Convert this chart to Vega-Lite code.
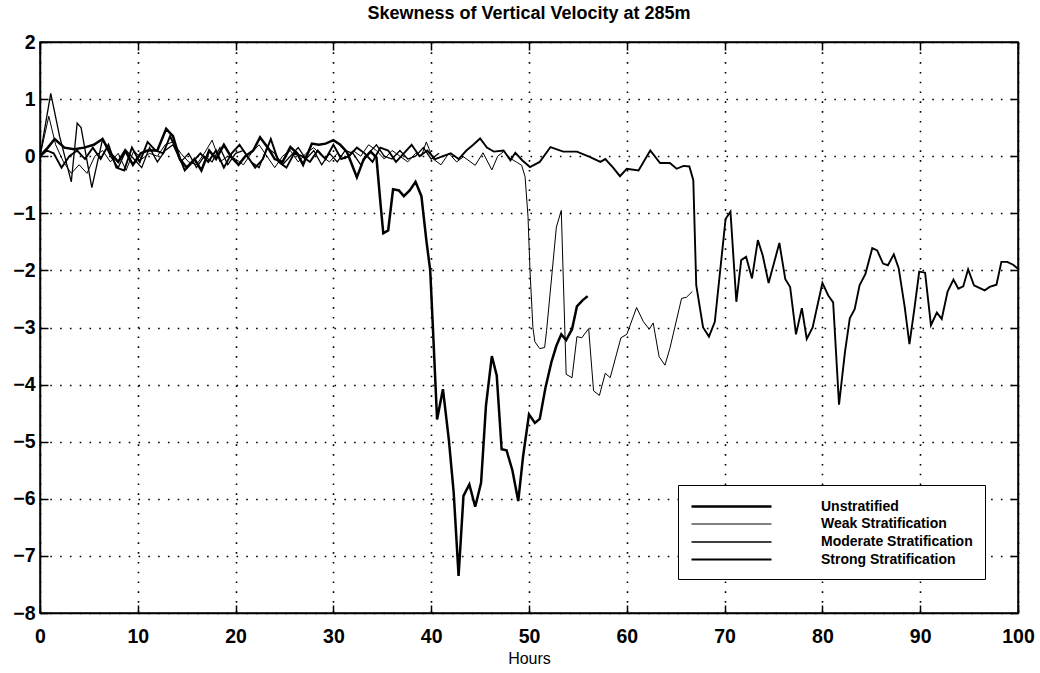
{
  "$schema": "https://vega.github.io/schema/vega-lite/v6.json",
  "autosize": {"type": "none"},
  "width": 978,
  "height": 571,
  "padding": {"left": 40, "top": 42, "right": 22, "bottom": 60},
  "background": "white",
  "title": {"text": "Skewness of Vertical Velocity at 285m", "font": "Liberation Sans", "fontSize": 18, "fontWeight": "bold", "color": "black", "offset": 9, "anchor": "middle"},
  "config": {
    "view": {"stroke": "black", "strokeWidth": 1.5},
    "axis": {"domainColor": "black", "domainWidth": 1.5, "tickColor": "black", "tickWidth": 1.5, "labelColor": "black", "titleColor": "black"}
  },
  "datasets": {
    "d": [
      {"hour":0.0,"skew":0.0,"case":"Unstratified"},{"hour":0.8,"skew":0.15,"case":"Unstratified"},{"hour":1.5,"skew":0.3,"case":"Unstratified"},{"hour":2.5,"skew":0.15,"case":"Unstratified"},{"hour":3.5,"skew":0.12,"case":"Unstratified"},{"hour":4.5,"skew":0.15,"case":"Unstratified"},{"hour":5.5,"skew":0.2,"case":"Unstratified"},{"hour":6.4,"skew":0.3,"case":"Unstratified"},{"hour":7.2,"skew":0.05,"case":"Unstratified"},{"hour":8.0,"skew":-0.1,"case":"Unstratified"},{"hour":8.7,"skew":0.1,"case":"Unstratified"},{"hour":9.5,"skew":-0.15,"case":"Unstratified"},{"hour":10.3,"skew":0.05,"case":"Unstratified"},{"hour":11.0,"skew":0.1,"case":"Unstratified"},{"hour":12.0,"skew":0.1,"case":"Unstratified"},{"hour":12.9,"skew":0.48,"case":"Unstratified"},{"hour":13.6,"skew":0.35,"case":"Unstratified"},{"hour":14.3,"skew":-0.05,"case":"Unstratified"},{"hour":15.0,"skew":-0.2,"case":"Unstratified"},{"hour":15.8,"skew":-0.05,"case":"Unstratified"},{"hour":16.5,"skew":-0.25,"case":"Unstratified"},{"hour":17.3,"skew":0.1,"case":"Unstratified"},{"hour":18.0,"skew":-0.05,"case":"Unstratified"},{"hour":18.8,"skew":0.2,"case":"Unstratified"},{"hour":19.5,"skew":0.0,"case":"Unstratified"},{"hour":20.3,"skew":-0.15,"case":"Unstratified"},{"hour":21.0,"skew":0.0,"case":"Unstratified"},{"hour":21.8,"skew":0.1,"case":"Unstratified"},{"hour":22.5,"skew":0.33,"case":"Unstratified"},{"hour":23.3,"skew":0.15,"case":"Unstratified"},{"hour":24.0,"skew":-0.05,"case":"Unstratified"},{"hour":24.8,"skew":-0.1,"case":"Unstratified"},{"hour":25.6,"skew":0.16,"case":"Unstratified"},{"hour":26.3,"skew":0.05,"case":"Unstratified"},{"hour":26.9,"skew":-0.15,"case":"Unstratified"},{"hour":27.8,"skew":0.22,"case":"Unstratified"},{"hour":28.5,"skew":0.2,"case":"Unstratified"},{"hour":29.2,"skew":0.22,"case":"Unstratified"},{"hour":30.0,"skew":0.28,"case":"Unstratified"},{"hour":30.7,"skew":0.2,"case":"Unstratified"},{"hour":31.4,"skew":0.07,"case":"Unstratified"},{"hour":32.4,"skew":-0.37,"case":"Unstratified"},{"hour":33.1,"skew":-0.05,"case":"Unstratified"},{"hour":33.8,"skew":0.08,"case":"Unstratified"},{"hour":34.4,"skew":-0.02,"case":"Unstratified"},{"hour":34.8,"skew":-0.8,"case":"Unstratified"},{"hour":35.1,"skew":-1.35,"case":"Unstratified"},{"hour":35.6,"skew":-1.3,"case":"Unstratified"},{"hour":36.1,"skew":-0.58,"case":"Unstratified"},{"hour":36.7,"skew":-0.6,"case":"Unstratified"},{"hour":37.2,"skew":-0.7,"case":"Unstratified"},{"hour":37.8,"skew":-0.6,"case":"Unstratified"},{"hour":38.4,"skew":-0.45,"case":"Unstratified"},{"hour":39.0,"skew":-0.7,"case":"Unstratified"},{"hour":39.5,"skew":-1.47,"case":"Unstratified"},{"hour":39.9,"skew":-2.0,"case":"Unstratified"},{"hour":40.2,"skew":-3.1,"case":"Unstratified"},{"hour":40.6,"skew":-4.61,"case":"Unstratified"},{"hour":41.2,"skew":-4.08,"case":"Unstratified"},{"hour":41.8,"skew":-4.96,"case":"Unstratified"},{"hour":42.3,"skew":-5.89,"case":"Unstratified"},{"hour":42.8,"skew":-7.35,"case":"Unstratified"},{"hour":43.3,"skew":-5.95,"case":"Unstratified"},{"hour":43.9,"skew":-5.75,"case":"Unstratified"},{"hour":44.5,"skew":-6.14,"case":"Unstratified"},{"hour":45.1,"skew":-5.72,"case":"Unstratified"},{"hour":45.6,"skew":-4.37,"case":"Unstratified"},{"hour":46.2,"skew":-3.5,"case":"Unstratified"},{"hour":46.7,"skew":-3.84,"case":"Unstratified"},{"hour":47.2,"skew":-5.13,"case":"Unstratified"},{"hour":47.7,"skew":-5.15,"case":"Unstratified"},{"hour":48.3,"skew":-5.5,"case":"Unstratified"},{"hour":48.9,"skew":-6.04,"case":"Unstratified"},{"hour":49.4,"skew":-5.25,"case":"Unstratified"},{"hour":50.0,"skew":-4.52,"case":"Unstratified"},{"hour":50.6,"skew":-4.67,"case":"Unstratified"},{"hour":51.1,"skew":-4.6,"case":"Unstratified"},{"hour":51.7,"skew":-4.04,"case":"Unstratified"},{"hour":52.3,"skew":-3.6,"case":"Unstratified"},{"hour":52.8,"skew":-3.32,"case":"Unstratified"},{"hour":53.3,"skew":-3.12,"case":"Unstratified"},{"hour":53.8,"skew":-3.22,"case":"Unstratified"},{"hour":54.4,"skew":-3.03,"case":"Unstratified"},{"hour":54.9,"skew":-2.63,"case":"Unstratified"},{"hour":55.5,"skew":-2.52,"case":"Unstratified"},{"hour":56.0,"skew":-2.45,"case":"Unstratified"},

      {"hour":0.0,"skew":0.0,"case":"Weak Stratification"},{"hour":0.9,"skew":0.7,"case":"Weak Stratification"},{"hour":1.6,"skew":0.2,"case":"Weak Stratification"},{"hour":2.4,"skew":-0.1,"case":"Weak Stratification"},{"hour":3.2,"skew":-0.3,"case":"Weak Stratification"},{"hour":4.0,"skew":-0.15,"case":"Weak Stratification"},{"hour":4.8,"skew":-0.3,"case":"Weak Stratification"},{"hour":5.6,"skew":0.0,"case":"Weak Stratification"},{"hour":6.4,"skew":0.1,"case":"Weak Stratification"},{"hour":7.2,"skew":-0.1,"case":"Weak Stratification"},{"hour":8.0,"skew":0.05,"case":"Weak Stratification"},{"hour":8.8,"skew":-0.25,"case":"Weak Stratification"},{"hour":9.6,"skew":0.1,"case":"Weak Stratification"},{"hour":10.4,"skew":-0.05,"case":"Weak Stratification"},{"hour":11.2,"skew":0.05,"case":"Weak Stratification"},{"hour":12.0,"skew":0.0,"case":"Weak Stratification"},{"hour":12.8,"skew":0.2,"case":"Weak Stratification"},{"hour":13.6,"skew":0.25,"case":"Weak Stratification"},{"hour":14.4,"skew":0.05,"case":"Weak Stratification"},{"hour":15.2,"skew":-0.1,"case":"Weak Stratification"},{"hour":16.0,"skew":-0.15,"case":"Weak Stratification"},{"hour":16.8,"skew":0.05,"case":"Weak Stratification"},{"hour":17.6,"skew":0.28,"case":"Weak Stratification"},{"hour":18.4,"skew":-0.1,"case":"Weak Stratification"},{"hour":19.2,"skew":0.0,"case":"Weak Stratification"},{"hour":20.0,"skew":-0.05,"case":"Weak Stratification"},{"hour":20.8,"skew":-0.15,"case":"Weak Stratification"},{"hour":21.6,"skew":0.05,"case":"Weak Stratification"},{"hour":22.4,"skew":0.2,"case":"Weak Stratification"},{"hour":23.2,"skew":0.0,"case":"Weak Stratification"},{"hour":24.0,"skew":-0.2,"case":"Weak Stratification"},{"hour":24.8,"skew":0.0,"case":"Weak Stratification"},{"hour":25.6,"skew":0.1,"case":"Weak Stratification"},{"hour":26.4,"skew":-0.1,"case":"Weak Stratification"},{"hour":27.2,"skew":0.05,"case":"Weak Stratification"},{"hour":28.0,"skew":0.15,"case":"Weak Stratification"},{"hour":28.8,"skew":0.0,"case":"Weak Stratification"},{"hour":29.6,"skew":-0.1,"case":"Weak Stratification"},{"hour":30.4,"skew":0.05,"case":"Weak Stratification"},{"hour":31.2,"skew":-0.05,"case":"Weak Stratification"},{"hour":32.0,"skew":0.1,"case":"Weak Stratification"},{"hour":32.8,"skew":0.0,"case":"Weak Stratification"},{"hour":33.6,"skew":0.2,"case":"Weak Stratification"},{"hour":34.4,"skew":0.1,"case":"Weak Stratification"},{"hour":35.2,"skew":-0.05,"case":"Weak Stratification"},{"hour":36.0,"skew":0.1,"case":"Weak Stratification"},{"hour":36.8,"skew":0.0,"case":"Weak Stratification"},{"hour":37.6,"skew":-0.1,"case":"Weak Stratification"},{"hour":38.4,"skew":0.05,"case":"Weak Stratification"},{"hour":39.0,"skew":0.0,"case":"Weak Stratification"},{"hour":39.5,"skew":0.25,"case":"Weak Stratification"},{"hour":40.2,"skew":-0.05,"case":"Weak Stratification"},{"hour":41.0,"skew":-0.15,"case":"Weak Stratification"},{"hour":41.8,"skew":0.05,"case":"Weak Stratification"},{"hour":42.6,"skew":-0.1,"case":"Weak Stratification"},{"hour":43.3,"skew":-0.01,"case":"Weak Stratification"},{"hour":44.5,"skew":-0.16,"case":"Weak Stratification"},{"hour":45.3,"skew":0.06,"case":"Weak Stratification"},{"hour":46.2,"skew":-0.24,"case":"Weak Stratification"},{"hour":46.8,"skew":0.0,"case":"Weak Stratification"},{"hour":47.4,"skew":0.08,"case":"Weak Stratification"},{"hour":48.2,"skew":-0.05,"case":"Weak Stratification"},{"hour":48.7,"skew":-0.1,"case":"Weak Stratification"},{"hour":49.25,"skew":-0.16,"case":"Weak Stratification"},{"hour":49.6,"skew":-0.36,"case":"Weak Stratification"},{"hour":49.9,"skew":-1.06,"case":"Weak Stratification"},{"hour":50.1,"skew":-2.0,"case":"Weak Stratification"},{"hour":50.4,"skew":-3.0,"case":"Weak Stratification"},{"hour":50.6,"skew":-3.25,"case":"Weak Stratification"},{"hour":51.1,"skew":-3.37,"case":"Weak Stratification"},{"hour":51.6,"skew":-3.35,"case":"Weak Stratification"},{"hour":51.8,"skew":-3.05,"case":"Weak Stratification"},{"hour":52.8,"skew":-1.24,"case":"Weak Stratification"},{"hour":53.3,"skew":-0.95,"case":"Weak Stratification"},{"hour":53.8,"skew":-3.82,"case":"Weak Stratification"},{"hour":54.4,"skew":-3.88,"case":"Weak Stratification"},{"hour":54.9,"skew":-3.16,"case":"Weak Stratification"},{"hour":55.4,"skew":-3.18,"case":"Weak Stratification"},{"hour":56.1,"skew":-3.02,"case":"Weak Stratification"},{"hour":56.6,"skew":-4.11,"case":"Weak Stratification"},{"hour":57.2,"skew":-4.19,"case":"Weak Stratification"},{"hour":57.8,"skew":-3.8,"case":"Weak Stratification"},{"hour":58.3,"skew":-3.88,"case":"Weak Stratification"},{"hour":59.4,"skew":-3.18,"case":"Weak Stratification"},{"hour":60.0,"skew":-3.12,"case":"Weak Stratification"},{"hour":61.0,"skew":-2.65,"case":"Weak Stratification"},{"hour":61.7,"skew":-2.9,"case":"Weak Stratification"},{"hour":62.3,"skew":-3.03,"case":"Weak Stratification"},{"hour":62.7,"skew":-2.92,"case":"Weak Stratification"},{"hour":63.3,"skew":-3.51,"case":"Weak Stratification"},{"hour":63.9,"skew":-3.66,"case":"Weak Stratification"},{"hour":64.4,"skew":-3.37,"case":"Weak Stratification"},{"hour":65.6,"skew":-2.49,"case":"Weak Stratification"},{"hour":66.1,"skew":-2.47,"case":"Weak Stratification"},{"hour":66.7,"skew":-2.37,"case":"Weak Stratification"},

      {"hour":0.0,"skew":0.0,"case":"Moderate Stratification"},{"hour":1.1,"skew":1.1,"case":"Moderate Stratification"},{"hour":2.0,"skew":0.35,"case":"Moderate Stratification"},{"hour":3.2,"skew":-0.45,"case":"Moderate Stratification"},{"hour":3.8,"skew":0.58,"case":"Moderate Stratification"},{"hour":4.2,"skew":0.5,"case":"Moderate Stratification"},{"hour":5.3,"skew":-0.55,"case":"Moderate Stratification"},{"hour":6.4,"skew":0.3,"case":"Moderate Stratification"},{"hour":7.2,"skew":0.0,"case":"Moderate Stratification"},{"hour":8.0,"skew":-0.2,"case":"Moderate Stratification"},{"hour":8.8,"skew":0.1,"case":"Moderate Stratification"},{"hour":9.6,"skew":-0.05,"case":"Moderate Stratification"},{"hour":10.4,"skew":-0.2,"case":"Moderate Stratification"},{"hour":11.2,"skew":0.15,"case":"Moderate Stratification"},{"hour":12.0,"skew":-0.1,"case":"Moderate Stratification"},{"hour":12.8,"skew":0.1,"case":"Moderate Stratification"},{"hour":13.6,"skew":0.2,"case":"Moderate Stratification"},{"hour":14.4,"skew":-0.1,"case":"Moderate Stratification"},{"hour":15.2,"skew":0.05,"case":"Moderate Stratification"},{"hour":16.0,"skew":-0.2,"case":"Moderate Stratification"},{"hour":16.8,"skew":0.0,"case":"Moderate Stratification"},{"hour":17.6,"skew":-0.1,"case":"Moderate Stratification"},{"hour":18.4,"skew":0.15,"case":"Moderate Stratification"},{"hour":19.2,"skew":-0.15,"case":"Moderate Stratification"},{"hour":20.0,"skew":0.05,"case":"Moderate Stratification"},{"hour":20.8,"skew":0.1,"case":"Moderate Stratification"},{"hour":21.6,"skew":-0.1,"case":"Moderate Stratification"},{"hour":22.4,"skew":-0.2,"case":"Moderate Stratification"},{"hour":23.2,"skew":0.15,"case":"Moderate Stratification"},{"hour":24.0,"skew":0.05,"case":"Moderate Stratification"},{"hour":24.8,"skew":-0.15,"case":"Moderate Stratification"},{"hour":25.6,"skew":0.0,"case":"Moderate Stratification"},{"hour":26.4,"skew":0.15,"case":"Moderate Stratification"},{"hour":27.2,"skew":-0.05,"case":"Moderate Stratification"},{"hour":28.0,"skew":0.1,"case":"Moderate Stratification"},{"hour":28.8,"skew":-0.15,"case":"Moderate Stratification"},{"hour":29.6,"skew":0.05,"case":"Moderate Stratification"},{"hour":30.4,"skew":-0.1,"case":"Moderate Stratification"},{"hour":31.2,"skew":0.1,"case":"Moderate Stratification"},{"hour":32.0,"skew":0.05,"case":"Moderate Stratification"},{"hour":32.8,"skew":-0.15,"case":"Moderate Stratification"},{"hour":33.6,"skew":0.05,"case":"Moderate Stratification"},{"hour":34.4,"skew":0.2,"case":"Moderate Stratification"},{"hour":35.2,"skew":0.0,"case":"Moderate Stratification"},{"hour":36.0,"skew":-0.05,"case":"Moderate Stratification"},{"hour":36.8,"skew":0.1,"case":"Moderate Stratification"},{"hour":37.6,"skew":-0.05,"case":"Moderate Stratification"},{"hour":38.4,"skew":0.0,"case":"Moderate Stratification"},{"hour":39.2,"skew":0.15,"case":"Moderate Stratification"},{"hour":40.0,"skew":-0.05,"case":"Moderate Stratification"},{"hour":40.8,"skew":0.05,"case":"Moderate Stratification"},

      {"hour":0.0,"skew":0.0,"case":"Strong Stratification"},{"hour":0.7,"skew":0.1,"case":"Strong Stratification"},{"hour":1.4,"skew":0.05,"case":"Strong Stratification"},{"hour":2.2,"skew":-0.2,"case":"Strong Stratification"},{"hour":3.0,"skew":0.0,"case":"Strong Stratification"},{"hour":3.8,"skew":0.1,"case":"Strong Stratification"},{"hour":4.6,"skew":-0.05,"case":"Strong Stratification"},{"hour":5.4,"skew":0.15,"case":"Strong Stratification"},{"hour":6.2,"skew":-0.05,"case":"Strong Stratification"},{"hour":7.0,"skew":0.2,"case":"Strong Stratification"},{"hour":7.8,"skew":-0.2,"case":"Strong Stratification"},{"hour":8.6,"skew":-0.25,"case":"Strong Stratification"},{"hour":9.4,"skew":0.15,"case":"Strong Stratification"},{"hour":10.2,"skew":-0.1,"case":"Strong Stratification"},{"hour":11.0,"skew":0.25,"case":"Strong Stratification"},{"hour":11.8,"skew":0.1,"case":"Strong Stratification"},{"hour":12.6,"skew":0.05,"case":"Strong Stratification"},{"hour":13.3,"skew":0.35,"case":"Strong Stratification"},{"hour":14.0,"skew":0.1,"case":"Strong Stratification"},{"hour":14.8,"skew":-0.25,"case":"Strong Stratification"},{"hour":15.6,"skew":-0.1,"case":"Strong Stratification"},{"hour":16.4,"skew":0.05,"case":"Strong Stratification"},{"hour":17.2,"skew":-0.1,"case":"Strong Stratification"},{"hour":18.0,"skew":0.1,"case":"Strong Stratification"},{"hour":18.8,"skew":-0.2,"case":"Strong Stratification"},{"hour":19.6,"skew":0.05,"case":"Strong Stratification"},{"hour":20.4,"skew":0.2,"case":"Strong Stratification"},{"hour":21.2,"skew":0.0,"case":"Strong Stratification"},{"hour":22.0,"skew":-0.2,"case":"Strong Stratification"},{"hour":22.8,"skew":-0.05,"case":"Strong Stratification"},{"hour":23.6,"skew":0.3,"case":"Strong Stratification"},{"hour":24.4,"skew":-0.1,"case":"Strong Stratification"},{"hour":25.2,"skew":-0.2,"case":"Strong Stratification"},{"hour":26.0,"skew":0.05,"case":"Strong Stratification"},{"hour":26.8,"skew":0.0,"case":"Strong Stratification"},{"hour":27.6,"skew":-0.1,"case":"Strong Stratification"},{"hour":28.4,"skew":0.1,"case":"Strong Stratification"},{"hour":29.2,"skew":-0.05,"case":"Strong Stratification"},{"hour":30.0,"skew":0.2,"case":"Strong Stratification"},{"hour":30.8,"skew":-0.05,"case":"Strong Stratification"},{"hour":31.6,"skew":0.0,"case":"Strong Stratification"},{"hour":32.4,"skew":0.15,"case":"Strong Stratification"},{"hour":33.2,"skew":0.05,"case":"Strong Stratification"},{"hour":34.0,"skew":-0.1,"case":"Strong Stratification"},{"hour":34.8,"skew":0.15,"case":"Strong Stratification"},{"hour":35.6,"skew":0.1,"case":"Strong Stratification"},{"hour":36.4,"skew":-0.1,"case":"Strong Stratification"},{"hour":37.2,"skew":0.05,"case":"Strong Stratification"},{"hour":38.0,"skew":0.2,"case":"Strong Stratification"},{"hour":38.8,"skew":0.0,"case":"Strong Stratification"},{"hour":39.6,"skew":0.1,"case":"Strong Stratification"},{"hour":40.4,"skew":-0.05,"case":"Strong Stratification"},{"hour":41.2,"skew":0.0,"case":"Strong Stratification"},{"hour":42.0,"skew":0.05,"case":"Strong Stratification"},{"hour":42.8,"skew":-0.05,"case":"Strong Stratification"},{"hour":43.6,"skew":0.1,"case":"Strong Stratification"},{"hour":44.3,"skew":0.2,"case":"Strong Stratification"},{"hour":45.0,"skew":0.31,"case":"Strong Stratification"},{"hour":45.7,"skew":0.15,"case":"Strong Stratification"},{"hour":46.4,"skew":0.08,"case":"Strong Stratification"},{"hour":47.4,"skew":0.1,"case":"Strong Stratification"},{"hour":48.1,"skew":-0.07,"case":"Strong Stratification"},{"hour":48.6,"skew":0.06,"case":"Strong Stratification"},{"hour":49.3,"skew":-0.07,"case":"Strong Stratification"},{"hour":50.1,"skew":-0.19,"case":"Strong Stratification"},{"hour":51.1,"skew":-0.1,"case":"Strong Stratification"},{"hour":52.2,"skew":0.16,"case":"Strong Stratification"},{"hour":53.5,"skew":0.08,"case":"Strong Stratification"},{"hour":54.9,"skew":0.08,"case":"Strong Stratification"},{"hour":56.2,"skew":-0.01,"case":"Strong Stratification"},{"hour":57.3,"skew":-0.1,"case":"Strong Stratification"},{"hour":57.8,"skew":-0.05,"case":"Strong Stratification"},{"hour":58.6,"skew":-0.2,"case":"Strong Stratification"},{"hour":59.3,"skew":-0.35,"case":"Strong Stratification"},{"hour":60.0,"skew":-0.22,"case":"Strong Stratification"},{"hour":61.2,"skew":-0.25,"case":"Strong Stratification"},{"hour":62.4,"skew":0.1,"case":"Strong Stratification"},{"hour":63.4,"skew":-0.12,"case":"Strong Stratification"},{"hour":64.4,"skew":-0.12,"case":"Strong Stratification"},{"hour":65.1,"skew":-0.22,"case":"Strong Stratification"},{"hour":65.8,"skew":-0.17,"case":"Strong Stratification"},{"hour":66.4,"skew":-0.18,"case":"Strong Stratification"},{"hour":66.8,"skew":-0.42,"case":"Strong Stratification"},{"hour":67.1,"skew":-2.26,"case":"Strong Stratification"},{"hour":67.8,"skew":-3.0,"case":"Strong Stratification"},{"hour":68.4,"skew":-3.16,"case":"Strong Stratification"},{"hour":69.0,"skew":-2.9,"case":"Strong Stratification"},{"hour":70.1,"skew":-1.1,"case":"Strong Stratification"},{"hour":70.6,"skew":-0.97,"case":"Strong Stratification"},{"hour":71.2,"skew":-2.55,"case":"Strong Stratification"},{"hour":71.7,"skew":-1.82,"case":"Strong Stratification"},{"hour":72.2,"skew":-1.76,"case":"Strong Stratification"},{"hour":72.8,"skew":-2.14,"case":"Strong Stratification"},{"hour":73.4,"skew":-1.47,"case":"Strong Stratification"},{"hour":73.9,"skew":-1.74,"case":"Strong Stratification"},{"hour":74.5,"skew":-2.22,"case":"Strong Stratification"},{"hour":75.6,"skew":-1.52,"case":"Strong Stratification"},{"hour":76.2,"skew":-2.15,"case":"Strong Stratification"},{"hour":76.7,"skew":-2.29,"case":"Strong Stratification"},{"hour":77.3,"skew":-3.12,"case":"Strong Stratification"},{"hour":77.9,"skew":-2.66,"case":"Strong Stratification"},{"hour":78.4,"skew":-3.2,"case":"Strong Stratification"},{"hour":79.0,"skew":-3.0,"case":"Strong Stratification"},{"hour":80.0,"skew":-2.22,"case":"Strong Stratification"},{"hour":80.6,"skew":-2.44,"case":"Strong Stratification"},{"hour":81.1,"skew":-2.56,"case":"Strong Stratification"},{"hour":81.7,"skew":-4.35,"case":"Strong Stratification"},{"hour":82.3,"skew":-3.44,"case":"Strong Stratification"},{"hour":82.8,"skew":-2.84,"case":"Strong Stratification"},{"hour":83.3,"skew":-2.68,"case":"Strong Stratification"},{"hour":83.8,"skew":-2.26,"case":"Strong Stratification"},{"hour":84.4,"skew":-2.06,"case":"Strong Stratification"},{"hour":85.1,"skew":-1.61,"case":"Strong Stratification"},{"hour":85.6,"skew":-1.65,"case":"Strong Stratification"},{"hour":86.2,"skew":-1.88,"case":"Strong Stratification"},{"hour":86.7,"skew":-1.91,"case":"Strong Stratification"},{"hour":87.3,"skew":-1.72,"case":"Strong Stratification"},{"hour":87.8,"skew":-1.96,"case":"Strong Stratification"},{"hour":88.4,"skew":-2.62,"case":"Strong Stratification"},{"hour":88.9,"skew":-3.29,"case":"Strong Stratification"},{"hour":89.4,"skew":-2.68,"case":"Strong Stratification"},{"hour":89.9,"skew":-2.02,"case":"Strong Stratification"},{"hour":90.5,"skew":-2.04,"case":"Strong Stratification"},{"hour":91.1,"skew":-2.96,"case":"Strong Stratification"},{"hour":91.7,"skew":-2.74,"case":"Strong Stratification"},{"hour":92.2,"skew":-2.85,"case":"Strong Stratification"},{"hour":92.8,"skew":-2.37,"case":"Strong Stratification"},{"hour":93.4,"skew":-2.16,"case":"Strong Stratification"},{"hour":93.9,"skew":-2.32,"case":"Strong Stratification"},{"hour":94.4,"skew":-2.28,"case":"Strong Stratification"},{"hour":94.9,"skew":-1.98,"case":"Strong Stratification"},{"hour":95.5,"skew":-2.26,"case":"Strong Stratification"},{"hour":96.1,"skew":-2.31,"case":"Strong Stratification"},{"hour":96.6,"skew":-2.35,"case":"Strong Stratification"},{"hour":97.1,"skew":-2.29,"case":"Strong Stratification"},{"hour":97.8,"skew":-2.25,"case":"Strong Stratification"},{"hour":98.3,"skew":-1.85,"case":"Strong Stratification"},{"hour":98.9,"skew":-1.85,"case":"Strong Stratification"},{"hour":99.5,"skew":-1.9,"case":"Strong Stratification"},{"hour":100.0,"skew":-1.97,"case":"Strong Stratification"}
    ]
  },
  "data": {"name": "d"},
  "layer": [
    {
      "mark": {"type": "line", "strokeJoin": "miter", "clip": true},
      "encoding": {
        "x": {"field": "hour", "type": "quantitative", "scale": {"domain": [0, 100], "nice": false, "zero": false},
          "axis": {"title": "Hours", "titleFont": "Liberation Sans", "titleFontSize": 16, "titleFontWeight": "normal", "titlePadding": 5,
            "values": [0,10,20,30,40,50,60,70,80,90,100], "labelFont": "Liberation Sans", "labelFontSize": 19.5, "labelFontWeight": "bold", "labelPadding": 22, "labelFlush": false,
            "tickSize": -8, "grid": true, "gridColor": "black", "gridDash": [1.6, 8.2], "gridWidth": 1.6, "gridOpacity": 1}},
        "y": {"field": "skew", "type": "quantitative", "scale": {"domain": [-8, 2], "nice": false, "zero": false},
          "axis": {"title": null, "values": [-8,-7,-6,-5,-4,-3,-2,-1,0,1,2], "labelFont": "Liberation Sans", "labelFontSize": 19.5, "labelFontWeight": "bold", "labelPadding": 13, "labelFlush": false,
            "tickSize": -8, "grid": true, "gridColor": "black", "gridDash": [1.6, 8.2], "gridWidth": 1.6, "gridOpacity": 1}},
        "detail": {"field": "case"},
        "color": {"field": "case", "type": "nominal",
          "scale": {"domain": ["Unstratified", "Weak Stratification", "Moderate Stratification", "Strong Stratification"], "range": ["black", "black", "black", "black"]},
          "legend": {"title": null, "orient": "none", "legendX": 638, "legendY": 443, "symbolType": "M-1,0H9", "symbolSize": 256, "symbolStrokeColor": "black",
            "labelFont": "Liberation Sans", "labelFontSize": 14, "labelFontWeight": "bold", "labelColor": "black", "labelOffset": 112, "labelLimit": 300,
            "padding": 12, "rowPadding": 1.5, "strokeColor": "black", "fillColor": "white", "cornerRadius": 0}},
        "strokeWidth": {"field": "case", "type": "nominal",
          "scale": {"type": "ordinal", "domain": ["Unstratified", "Weak Stratification", "Moderate Stratification", "Strong Stratification"], "range": [2.5, 1, 1.3, 1.9]},
          "legend": {"title": null, "orient": "none", "legendX": 638, "legendY": 443, "symbolType": "M-1,0H9", "symbolSize": 256, "symbolStrokeColor": "black",
            "labelFont": "Liberation Sans", "labelFontSize": 14, "labelFontWeight": "bold", "labelColor": "black", "labelOffset": 112, "labelLimit": 300,
            "padding": 12, "rowPadding": 1.5, "strokeColor": "black", "fillColor": "white", "cornerRadius": 0}}
      }
    },
    {
      "mark": {"type": "line", "opacity": 0},
      "encoding": {
        "x": {"field": "hour", "type": "quantitative", "scale": {"domain": [0, 100], "nice": false, "zero": false},
          "axis": {"orient": "top", "title": null, "labels": false, "values": [0,10,20,30,40,50,60,70,80,90,100], "tickSize": -8, "grid": false}},
        "y": {"field": "skew", "type": "quantitative", "scale": {"domain": [-8, 2], "nice": false, "zero": false},
          "axis": {"orient": "right", "title": null, "labels": false, "values": [-8,-7,-6,-5,-4,-3,-2,-1,0,1,2], "tickSize": -8, "grid": false}},
        "detail": {"field": "case"}
      }
    }
  ],
  "resolve": {"axis": {"x": "independent", "y": "independent"}}
}
